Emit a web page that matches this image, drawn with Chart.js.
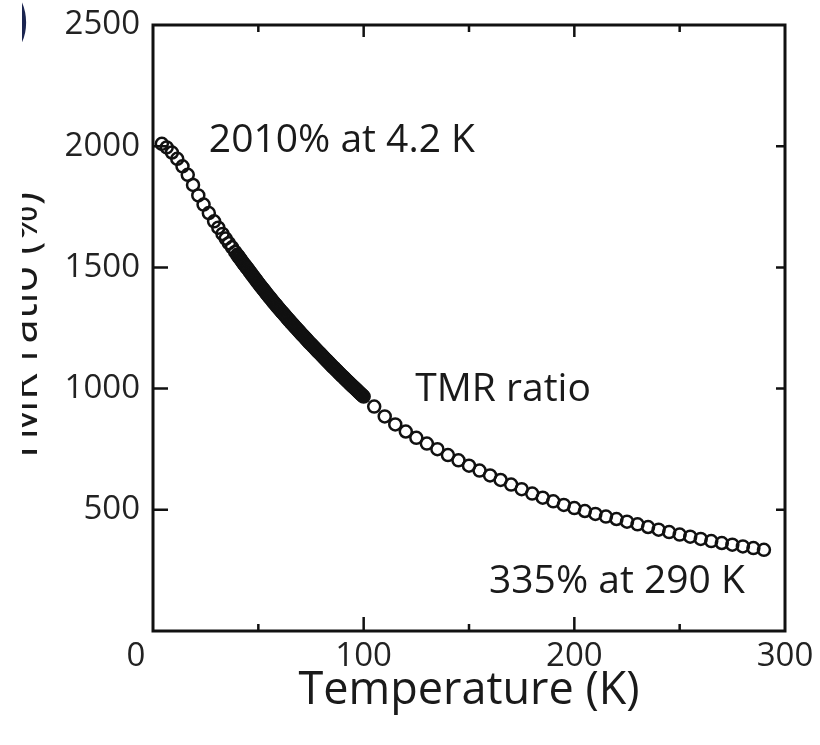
<!DOCTYPE html>
<html><head><meta charset="utf-8">
<script src="https://cdn.jsdelivr.net/npm/chart.js@4/dist/chart.umd.min.js"></script>
<style>
html,body{margin:0;padding:0;background:#fff;}
#clip{position:absolute;left:22px;top:0;width:798px;height:745px;overflow:hidden;background:#fff;}
#c{position:absolute;left:-22px;top:0;width:820px;height:745px;}
</style></head><body>
<div id="clip"><canvas id="c" width="820" height="745"></canvas></div>
<script>
// ---- data ----
const temperatureK = [
  4.2, 6.5, 9, 11.5, 14, 16.5, 19, 21.5, 24, 26.5, 29, 31, 33, 34.5, 36, 37.5, 39,
  40, 40.5, 41, 41.5, 42, 42.5, 43, 43.5, 44, 44.5, 45, 45.5, 46, 46.5, 47, 47.5, 48, 48.5, 49, 49.5,
  50, 50.5, 51, 51.5, 52, 52.5, 53, 53.5, 54, 54.5, 55, 55.5, 56, 56.5, 57, 57.5, 58, 58.5, 59, 59.5,
  60, 60.5, 61, 61.5, 62, 62.5, 63, 63.5, 64, 64.5, 65, 65.5, 66, 66.5, 67, 67.5, 68, 68.5, 69, 69.5,
  70, 70.5, 71, 71.5, 72, 72.5, 73, 73.5, 74, 74.5, 75, 75.5, 76, 76.5, 77, 77.5, 78, 78.5, 79, 79.5,
  80, 80.5, 81, 81.5, 82, 82.5, 83, 83.5, 84, 84.5, 85, 85.5, 86, 86.5, 87, 87.5, 88, 88.5, 89, 89.5,
  90, 90.5, 91, 91.5, 92, 92.5, 93, 93.5, 94, 94.5, 95, 95.5, 96, 96.5, 97, 97.5, 98, 98.5, 99, 99.5, 100,
  105, 110, 115, 120, 125, 130, 135, 140, 145, 150, 155, 160, 165, 170, 175, 180,
  185, 190, 195, 200, 205, 210, 215, 220, 225, 230, 235, 240, 245, 250, 255, 260,
  265, 270, 275, 280, 285, 290
];
const tmrRatio = [
  2010, 1995, 1974, 1948, 1917, 1882, 1840, 1797, 1759, 1724, 1690, 1664, 1638, 1619, 1600, 1583, 1564,
  1552, 1546, 1540, 1534, 1528, 1522, 1516, 1510, 1505, 1499, 1494, 1488, 1482, 1476, 1470, 1464, 1459, 1453, 1447, 1441,
  1435, 1430, 1424, 1419, 1413, 1408, 1402, 1397, 1391, 1386, 1380, 1375, 1370, 1364, 1359, 1354, 1349, 1344, 1338, 1333,
  1328, 1323, 1318, 1313, 1308, 1303, 1298, 1293, 1288, 1283, 1278, 1273, 1268, 1264, 1259, 1254, 1249, 1244, 1240, 1235,
  1230, 1225, 1221, 1216, 1211, 1207, 1202, 1197, 1192, 1188, 1183, 1179, 1174, 1170, 1165, 1161, 1156, 1152, 1147, 1143,
  1138, 1134, 1129, 1125, 1120, 1116, 1111, 1107, 1102, 1098, 1093, 1089, 1085, 1080, 1076, 1072, 1067, 1063, 1059, 1054,
  1050, 1046, 1042, 1037, 1033, 1029, 1025, 1021, 1016, 1012, 1008, 1004, 1000, 996, 992, 988, 983, 979, 975, 971, 967,
  926, 885, 852, 823, 797, 773, 750, 726, 704, 682, 662, 642, 623, 604, 585, 567,
  550, 535, 520, 507, 495, 483, 472, 462, 451, 440, 429, 418, 408, 398, 389, 380,
  371, 363, 356, 349, 342, 335
];
const xTickValues = [0, 100, 200, 300];
const xMinorTickValues = [50, 150, 250];
const yTickValues = [500, 1000, 1500, 2000, 2500];
const annotationTexts = ['2010% at 4.2 K', 'TMR ratio', '335% at 290 K'];
const annotationX = [26.5, 124.5, 159.5];
const annotationY = [2021, 994, 202];
const xTitle = 'Temperature (K)';
const yTitle = 'TMR ratio (%)';
const cornerLabel = '0';
const panelMark = ')';

// ---- styling ----
const FONT = "'Open Sans', 'DejaVu Sans', sans-serif";
const INK = '#1a1a1a';

const framePlugin = {
  id: 'frame',
  beforeDatasetsDraw(chart) {
    const {ctx, chartArea: a, scales: {x, y}} = chart;
    ctx.save();
    ctx.strokeStyle = '#111';
    ctx.lineWidth = 3;
    ctx.strokeRect(a.left, a.top, a.right - a.left, a.bottom - a.top);
    ctx.lineWidth = 2.5;
    ctx.beginPath();
    yTickValues.forEach(v => {
      if (v <= y.min || v >= y.max) return;
      const py = y.getPixelForValue(v);
      ctx.moveTo(a.left, py); ctx.lineTo(a.left + 15, py);
      ctx.moveTo(a.right, py); ctx.lineTo(a.right - 9, py);
    });
    xTickValues.forEach(v => {
      if (v <= x.min || v >= x.max) return;
      const px = x.getPixelForValue(v);
      ctx.moveTo(px, a.bottom); ctx.lineTo(px, a.bottom - 14);
      ctx.moveTo(px, a.top); ctx.lineTo(px, a.top + 12);
    });
    xMinorTickValues.forEach(v => {
      const px = x.getPixelForValue(v);
      ctx.moveTo(px, a.bottom); ctx.lineTo(px, a.bottom - 7);
      ctx.moveTo(px, a.top); ctx.lineTo(px, a.top + 7);
    });
    ctx.stroke();
    ctx.restore();
  },
  afterDraw(chart) {
    const {ctx, chartArea: a, scales: {x, y}} = chart;
    ctx.save();
    ctx.fillStyle = INK;
    ctx.textAlign = 'left';
    ctx.textBaseline = 'middle';
    ctx.font = "39px " + FONT;
    annotationTexts.forEach((t, i) => {
      ctx.fillText(t, x.getPixelForValue(annotationX[i]), y.getPixelForValue(annotationY[i]));
    });
    // shared corner "0" under the origin
    ctx.font = "33px " + FONT;
    ctx.fillStyle = '#222';
    ctx.textAlign = 'center';
    ctx.fillText(cornerLabel, x.getPixelForValue(0) - 17, a.bottom + 6 + 33 * 1.2 / 2);
    // clipped panel mark at top-left
    ctx.font = "bold 64px " + FONT;
    ctx.fillStyle = '#1b2550';
    ctx.textAlign = 'left';
    ctx.fillText(panelMark, 7, 22);
    ctx.restore();
  }
};

new Chart(document.getElementById('c'), {
  type: 'scatter',
  data: {
    datasets: [{
      data: temperatureK.map((t, i) => ({x: t, y: tmrRatio[i]})),
      pointStyle: 'circle',
      pointRadius: 6,
      pointHoverRadius: 6,
      pointBorderWidth: 2.5,
      borderColor: '#111',
      pointBorderColor: '#111',
      backgroundColor: 'rgba(0,0,0,0)',
      pointBackgroundColor: 'rgba(0,0,0,0)',
      showLine: false
    }]
  },
  options: {
    responsive: false,
    devicePixelRatio: 1,
    animation: false,
    layout: {padding: {top: 25, right: 35, bottom: 0, left: 0}},
    plugins: {legend: {display: false}, tooltip: {enabled: false}},
    scales: {
      x: {
        type: 'linear', min: 0, max: 300,
        afterBuildTicks(scale) { scale.ticks = xTickValues.map(v => ({value: v})); },
        afterFit(scale) { scale.height = 114; scale.paddingLeft = 0; scale.paddingRight = 0; },
        grid: {display: false, drawTicks: false},
        border: {display: false},
        ticks: {
          padding: 6,
          color: '#222',
          font: {family: FONT, size: 33},
          callback: v => (v === 0 ? '' : String(v))
        },
        title: {display: true, text: xTitle, color: INK, font: {family: FONT, size: 45}, padding: {top: 0, bottom: 27}}
      },
      y: {
        type: 'linear', min: 0, max: 2500,
        afterBuildTicks(scale) { scale.ticks = [0].concat(yTickValues).map(v => ({value: v})); },
        afterFit(scale) { scale.width = 153; scale.paddingTop = 0; scale.paddingBottom = 0; },
        grid: {display: false, drawTicks: false},
        border: {display: false},
        ticks: {
          padding: 13,
          color: '#222',
          font: {family: FONT, size: 33},
          callback: v => (v === 0 ? '' : String(v))
        },
        title: {display: true, text: yTitle, color: INK, font: {family: FONT, size: 44, lineHeight: 1.1}, padding: {top: 0, bottom: 0}}
      }
    }
  },
  plugins: [framePlugin]
});
</script>
</body></html>
